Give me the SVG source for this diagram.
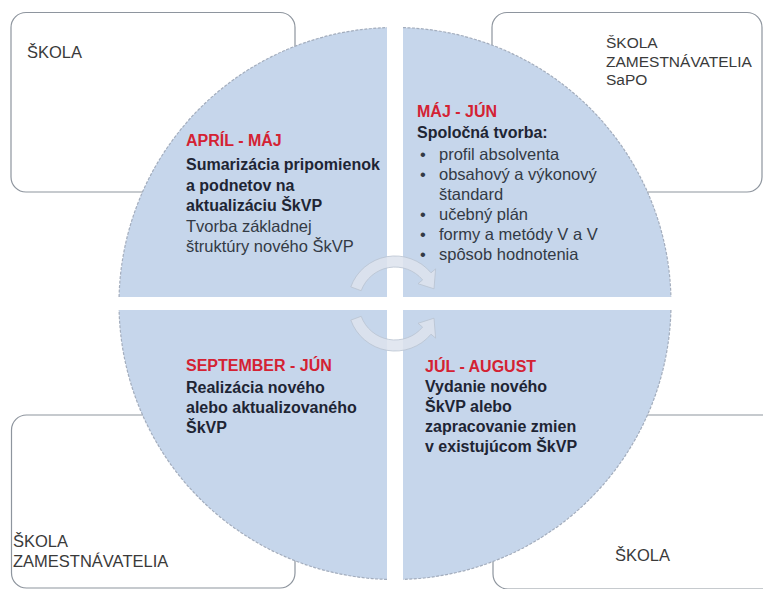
<svg xmlns="http://www.w3.org/2000/svg" width="763" height="589" viewBox="0 0 763 589">
<style>
text { font-family: "Liberation Sans", Arial, sans-serif; }
.box { fill: #ffffff; stroke: #8e959e; stroke-width: 1.2; }
.boxtxt { font-size: 16.5px; fill: #3a3a3a; }
.boxtxt-s { font-size: 15.5px; fill: #3a3a3a; }
.quad { fill: #c6d6eb; }
.edge { fill: none; stroke: #a3adbd; stroke-width: 1.2; stroke-dasharray: 3 1.5; }
.head { font-size: 16px; font-weight: bold; fill: #d42233; }
.bold { font-size: 16px; font-weight: bold; fill: #1e2534; }
.reg { font-size: 16.5px; fill: #333a45; }
.arrow { fill: #dde3ed; fill-opacity: 0.85; stroke: #b9c3d1; stroke-width: 0.8; }
</style>
<rect width="763" height="589" fill="#ffffff"/>

<g id="box-tl">
  <rect class="box" x="11" y="12.5" width="284" height="179.5" rx="15"/>
  <text class="boxtxt" x="27" y="58">ŠKOLA</text>
</g>
<g id="box-tr">
  <rect class="box" x="492" y="12.5" width="270" height="179.5" rx="15"/>
  <text class="boxtxt-s" x="606" y="48">ŠKOLA</text>
  <text class="boxtxt-s" x="606" y="66.5">ZAMESTNÁVATELIA</text>
  <text class="boxtxt-s" x="606" y="85">SaPO</text>
</g>
<g id="box-bl">
  <rect class="box" x="11.5" y="415" width="283.5" height="173" rx="15"/>
  <text class="boxtxt" x="13" y="547">ŠKOLA</text>
  <text class="boxtxt" x="13" y="567">ZAMESTNÁVATELIA</text>
</g>
<g id="box-br">
  <rect class="box" x="493" y="415" width="285" height="174" rx="15"/>
  <text class="boxtxt" x="615" y="561">ŠKOLA</text>
</g>

<g id="quad-tl">
  <path class="quad" d="M 387 297 L 119.08 297 A 276 276 0 0 1 387 27.62 Z"/>
  <path class="edge" d="M 119.08 297 A 276 276 0 0 1 387 27.62"/>
  <text class="head" x="186" y="146">APRÍL - MÁJ</text>
  <text class="bold" x="186" y="170">Sumarizácia pripomienok</text>
  <text class="bold" x="186" y="190.5">a podnetov na</text>
  <text class="bold" x="186" y="211">aktualizáciu ŠkVP</text>
  <text class="reg" x="186" y="231.5">Tvorba základnej</text>
  <text class="reg" x="186" y="252">štruktúry nového ŠkVP</text>
</g>
<g id="quad-tr">
  <path class="quad" d="M 403 297 L 403 27.62 A 276 276 0 0 1 670.92 297 Z"/>
  <path class="edge" d="M 403 27.62 A 276 276 0 0 1 670.92 297"/>
  <text class="head" x="417" y="117">MÁJ - JÚN</text>
  <text class="bold" x="417" y="138">Spoločná tvorba:</text>
  <g class="reg">
    <text x="420" y="160">•</text><text x="439" y="160">profil absolventa</text>
    <text x="420" y="180">•</text><text x="439" y="180">obsahový a výkonový</text>
    <text x="439" y="200">štandard</text>
    <text x="420" y="220">•</text><text x="439" y="220">učebný plán</text>
    <text x="420" y="240">•</text><text x="439" y="240">formy a metódy V a V</text>
    <text x="420" y="260">•</text><text x="439" y="260">spôsob hodnotenia</text>
  </g>
</g>
<g id="quad-bl">
  <path class="quad" d="M 387 310 L 387 579.38 A 276 276 0 0 1 119.08 310 Z"/>
  <path class="edge" d="M 387 579.38 A 276 276 0 0 1 119.08 310"/>
  <text class="head" x="186" y="371">SEPTEMBER - JÚN</text>
  <text class="bold" x="186" y="393">Realizácia nového</text>
  <text class="bold" x="186" y="413">alebo aktualizovaného</text>
  <text class="bold" x="186" y="433">ŠkVP</text>
</g>
<g id="quad-br">
  <path class="quad" d="M 403 310 L 670.92 310 A 276 276 0 0 1 403 579.38 Z"/>
  <path class="edge" d="M 670.92 310 A 276 276 0 0 1 403 579.38"/>
  <text class="head" x="425" y="372">JÚL - AUGUST</text>
  <text class="bold" x="425" y="392">Vydanie nového</text>
  <text class="bold" x="425" y="412">ŠkVP alebo</text>
  <text class="bold" x="425" y="432">zapracovanie zmien</text>
  <text class="bold" x="425" y="452">v existujúcom ŠkVP</text>
</g>

<g id="connectors">
  <path class="arrow" d="M 350.8 286.9 A 47 47 0 0 1 431.0 272.8 L 435.6 268.9 L 434.0 288.8 L 418.0 283.7 L 422.6 279.9 A 36 36 0 0 0 361.2 290.7 Z"/>
  <path class="arrow" d="M 350.8 320.1 A 47 47 0 0 0 431.0 334.2 L 435.6 338.1 L 434.0 318.2 L 418.0 323.3 L 422.6 327.1 A 36 36 0 0 1 361.2 316.3 Z"/>
</g>
</svg>
